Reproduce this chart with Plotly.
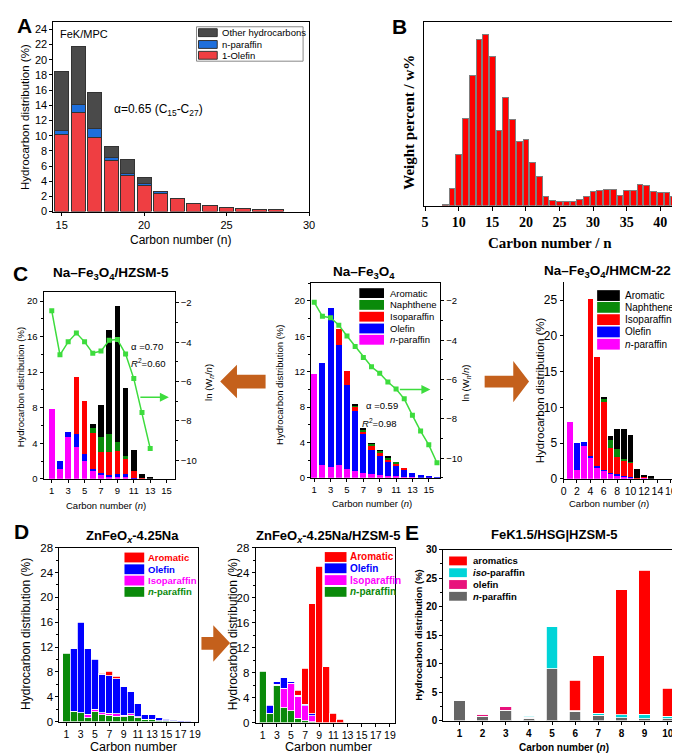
import plotly.graph_objects as go

W, H = 680, 755
SANS = "Liberation Sans, Arial, sans-serif"
SERIF = "Liberation Serif, Times New Roman, serif"

# ---------------- data ----------------
# A  FeK/MPC
a_carbon = list(range(15, 29))
a_olefin = [10.1, 13.1, 9.8, 6.7, 4.7, 3.4, 2.4, 1.75, 1.05, 0.8, 0.55, 0.45, 0.33, 0.25]
a_nparaffin = [0.6, 1.0, 1.1, 0.4, 0.3, 0.3, 0.2, 0, 0, 0, 0, 0, 0, 0]
a_other = [7.7, 7.7, 4.8, 1.5, 1.8, 0.8, 0.1, 0, 0, 0, 0, 0, 0, 0]

# B  weight percent vs carbon number
b_carbon = list(range(8, 43))
b_weight = [0.05, 1.28, 3.9, 6.65, 9.95, 12.65, 13.1, 11.4, 5.75, 8.28, 6.58, 4.9, 5.08,
            3.33, 2.23, 0.73, 0.4, 0.33, 0.33, 0.3, 0.5, 0.7, 1.08, 1.18, 1.23, 1.2,
            0.78, 1.13, 1.18, 1.65, 1.53, 1.08, 0.98, 0.98, 0.7]

# C left  Na-Fe3O4/HZSM-5
cl_carbon = list(range(1, 14))
cl_npar = [7.9, 1.1, 4.7, 3.6, 2.0, 0.85, 0.4, 0.2, 0.25, 0.22, 0.05, 0, 0]
cl_olefin = [0, 0.9, 0.55, 1.4, 0.75, 0.25, 0.25, 0.2, 0.3, 0.3, 0.05, 0, 0]
cl_isopar = [0, 0, 0, 6.4, 6.05, 4.1, 2.35, 2.6, 2.55, 1.7, 0.8, 0.05, 0]
cl_naph = [0, 0, 0, 0, 0, 0.55, 1.7, 2.0, 1.1, 0.4, 0, 0, 0]
cl_arom = [0, 0, 0, 0, 0, 0.4, 3.55, 11.7, 15.25, 7.65, 2.3, 0.55, 0.1]
cl_ln = [-2.4, -4.64, -3.98, -3.53, -3.98, -4.56, -4.45, -3.9, -3.86, -4.6, -5.85, -7.58, -9.4]

# C middle  Na-Fe3O4
cm_carbon = list(range(1, 17))
cm_npar = [11.8, 1.4, 1.25, 1.4, 1.05, 0.8, 0.6, 0.4, 0.3, 0.25, 0.2, 0.15, 0.05, 0, 0.03, 0]
cm_olefin = [0, 11.6, 18.0, 13.6, 9.45, 6.8, 4.4, 2.8, 2.2, 1.5, 1.1, 0.75, 0.5, 0.3, 0.12, 0.05]
cm_isopar = [0, 0, 0, 1.8, 1.6, 0.45, 0.25, 0.35, 0.3, 0.3, 0.3, 0.2, 0, 0, 0, 0]
cm_naph = [0, 0, 0, 0, 0, 0.1, 0.15, 0.25, 0.25, 0.25, 0.15, 0, 0, 0, 0, 0]
cm_arom = [0, 0, 0, 0, 0, 0.2, 0.2, 0.1, 0.05, 0.05, 0, 0, 0, 0, 0, 0]
cm_ln = [-2.07, -2.78, -2.85, -3.23, -3.78, -4.32, -4.87, -5.35, -5.68, -6.12, -6.48,
         -6.98, -7.82, -8.62, -9.32, -10.23]

# C right  Na-Fe3O4/HMCM-22
cr_carbon = list(range(1, 14))
cr_npar = [8.0, 1.3, 4.6, 2.9, 1.6, 1.15, 0.7, 0.37, 0.23, 0.2, 0, 0.15, 0]
cr_olefin = [0, 3.65, 0.5, 0.25, 0.15, 0.13, 0.13, 0.36, 0.14, 0.12, 0, 0, 0]
cr_isopar = [0, 0, 0, 21.95, 15.35, 9.42, 3.44, 2.39, 2.15, 1.9, 0.1, 0.05, 0]
cr_naph = [0, 0, 0, 0, 0, 0.45, 1.13, 1.0, 0.3, 0.1, 0, 0, 0]
cr_arom = [0, 0, 0, 0, 0, 0.35, 0.56, 2.87, 4.1, 3.85, 1.3, 0.3, 0.35]

# D left  ZnFeOx-4.25Na
dl_carbon = list(range(1, 19))
dl_npar = [11.0, 1.7, 1.4, 0.6, 1.6, 1.1, 1.0, 0.9, 0.8, 1.0, 0.6, 0.3, 0.35, 0.15, 0.1, 0.05, 0, 0]
dl_isopar = [0, 0, 0, 0.6, 0.4, 0.3, 0.35, 0.35, 0.25, 0.3, 0.2, 0.05, 0, 0, 0, 0, 0, 0]
dl_olefin = [0, 10.0, 14.6, 10.5, 8.0, 6.2, 6.05, 5.65, 4.55, 3.5, 2.1, 0.75, 0.75, 0.45, 0.25, 0.15, 0.1, 0.05]
dl_arom = [0, 0, 0, 0, 0, 0.2, 0.7, 0.4, 0, 0, 0, 0, 0, 0, 0, 0, 0, 0]

# D right  ZnFeOx-4.25Na/HZSM-5
dr_carbon = list(range(1, 13))
dr_npar = [8.2, 1.5, 6.0, 2.4, 1.9, 0.7, 0.3, 0.1, 0, 0, 0, 0]
dr_isopar = [0, 0, 0.1, 3.1, 4.4, 3.5, 2.4, 1.0, 0, 0, 0, 0]
dr_olefin = [0, 1.3, 0.4, 1.7, 0.2, 0.2, 0.2, 0.3, 0, 0, 0, 0]
dr_arom = [0, 0, 0, 0, 0, 0.8, 5.8, 17.6, 25.0, 8.9, 1.5, 0.5]

# E  FeK1.5/HSG|HZSM-5
e_carbon = list(range(1, 11))
e_npar = [3.5, 0.8, 1.8, 0.45, 9.1, 1.6, 0.9, 0.5, 0.3, 0.3]
e_olefin = [0, 0.3, 0.6, 0.1, 0, 0, 0, 0, 0, 0]
e_isopar = [0, 0.1, 0, 0.25, 7.4, 0.1, 0.4, 0.5, 0.8, 0.5]
e_arom = [0, 0, 0, 0, 0, 5.4, 10.1, 22.0, 25.3, 4.9]

# colours
A_RED, A_BLUE, A_GRAY = "#ef3e42", "#1e6fdc", "#4a4a4a"
BLACK, GREEN, RED, BLUE, MAGENTA = "#000000", "#0a8a0a", "#ff0000", "#0000ff", "#ff00ff"
LINE_GREEN = "#3ddc3d"
E_CYAN, E_PINK, E_GRAY = "#00d4d8", "#e8127c", "#666666"
ARROW = "#c4601c"


def fx(x):
    return x / W


def fy(y):
    return 1 - y / H


fig = go.Figure()
shapes = []
ann = []


def add_stack(xa, ya, x, layers, width, lc=None, lw=0):
    for vals, color in layers:
        fig.add_trace(go.Bar(x=x, y=[v if v else None for v in vals], xaxis=xa, yaxis=ya,
                             width=width, hoverinfo="skip",
                             marker=dict(color=color, line=dict(color=lc or color, width=lw))))


def axis(l, r, rng, anchor, size, family=SANS, bold=False, mirror=True, horiz=True, **kw):
    dom = [fx(l), fx(r)] if horiz else [fy(r), fy(l)]
    d = dict(domain=dom, range=rng, anchor=anchor, showline=True, linecolor="black",
             linewidth=1, mirror=mirror, ticks="outside", ticklen=3, tickwidth=1,
             tickcolor="black", showgrid=False, zeroline=False, tickangle=0,
             tickfont=dict(family=family, size=size, color="black",
                           weight="bold" if bold else "normal"))
    d.update(kw)
    return d


def txt(x, y, s, size, family=SANS, bold=False, color="black", angle=0, xanchor="center"):
    ann.append(dict(x=fx(x), y=fy(y), xref="paper", yref="paper", text=s, showarrow=False,
                    textangle=angle, xanchor=xanchor, yanchor="middle",
                    font=dict(family=family, size=size, color=color,
                              weight="bold" if bold else "normal")))


def rect(x0, y0, x1, y1, fill, line="rgba(0,0,0,0)", lw=0):
    shapes.append(dict(type="rect", xref="paper", yref="paper", x0=fx(x0), x1=fx(x1),
                       y0=fy(y1), y1=fy(y0), fillcolor=fill, line=dict(color=line, width=lw)))


def poly(pts, color):
    p = "M " + " L ".join(f"{fx(a):.5f},{fy(b):.5f}" for a, b in pts) + " Z"
    shapes.append(dict(type="path", xref="paper", yref="paper", path=p, fillcolor=color,
                       line=dict(width=0)))


def legend(x0, x1, rows, h, labels, colors, tx, size, bold=False, tcolors=None, lc=None):
    for i, (yc, lab, col) in enumerate(zip(rows, labels, colors)):
        rect(x0, yc - h / 2, x1, yc + h / 2, col, lc or col, 1 if lc else 0)
        txt(tx, yc, lab, size, bold=bold, color=(tcolors[i] if tcolors else "black"),
            xanchor="left")


def green_arrow(x0, x1, y):
    ann.append(dict(x=fx(x1), y=fy(y), xref="paper", yref="paper", ax=x0 - x1, ay=0,
                    showarrow=True, arrowhead=2, arrowsize=1.2, arrowwidth=1.5,
                    arrowcolor=LINE_GREEN, text=""))


odd15 = [1, 3, 5, 7, 9, 11, 13, 15]
odd19 = [1, 3, 5, 7, 9, 11, 13, 15, 17, 19]

# ---------------- A ----------------
add_stack("x", "y", a_carbon, [(a_olefin, A_RED), (a_nparaffin, A_BLUE), (a_other, A_GRAY)],
          0.86, "#333333", 1)
# ---------------- B ----------------
fig.add_trace(go.Bar(x=b_carbon, y=b_weight, xaxis="x2", yaxis="y2", width=0.85,
                     hoverinfo="skip", marker=dict(color="#ff0000", line=dict(color="#7f7f7f", width=1))))
# ---------------- C ----------------
c_layers = lambda p, o, i, n, a: [(p, MAGENTA), (o, BLUE), (i, RED), (n, GREEN), (a, BLACK)]
add_stack("x3", "y3", cl_carbon, c_layers(cl_npar, cl_olefin, cl_isopar, cl_naph, cl_arom), 0.7)
fig.add_trace(go.Scatter(x=cl_carbon, y=cl_ln, xaxis="x3", yaxis="y4", mode="lines+markers",
                         line=dict(color=LINE_GREEN, width=1.5),
                         marker=dict(symbol="square", size=5, color=LINE_GREEN), hoverinfo="skip"))
add_stack("x4", "y5", cm_carbon, c_layers(cm_npar, cm_olefin, cm_isopar, cm_naph, cm_arom), 0.75)
fig.add_trace(go.Scatter(x=cm_carbon, y=cm_ln, xaxis="x4", yaxis="y6", mode="lines+markers",
                         line=dict(color=LINE_GREEN, width=1.5),
                         marker=dict(symbol="square", size=5, color=LINE_GREEN), hoverinfo="skip"))
add_stack("x5", "y7", cr_carbon, c_layers(cr_npar, cr_olefin, cr_isopar, cr_naph, cr_arom), 0.85)
# ---------------- D ----------------
d_layers = lambda p, i, o, a: [(p, GREEN), (i, MAGENTA), (o, BLUE), (a, RED)]
add_stack("x6", "y8", dl_carbon, d_layers(dl_npar, dl_isopar, dl_olefin, dl_arom), 1.0, "white", 0.8)
add_stack("x7", "y9", dr_carbon, d_layers(dr_npar, dr_isopar, dr_olefin, dr_arom), 1.0, "white", 0.8)
# ---------------- E ----------------
add_stack("x8", "y10", e_carbon,
          [(e_npar, E_GRAY), (e_olefin, E_PINK), (e_isopar, E_CYAN), (e_arom, RED)], 0.5, "white", 0.8)

lay = dict(width=W, height=H, margin=dict(l=0, r=0, t=0, b=0), paper_bgcolor="white",
           plot_bgcolor="white", barmode="stack", showlegend=False)

lay["xaxis"] = axis(43, 302, [14.5, 30], "y", 11, tickvals=[15, 20, 25, 30])
lay["yaxis"] = axis(8, 201, [0, 25], "x", 11, horiz=False, tickvals=list(range(0, 25, 2)))

lay["xaxis2"] = axis(419, 675, [4.9, 42.5], "y2", 14, family=SERIF, bold=True,
                     tickvals=list(range(5, 41, 5)), ticklen=4)
lay["yaxis2"] = axis(8, 195, [0, 14.03], "x2", 10, horiz=False, ticks="", showticklabels=False)

lay["xaxis3"] = axis(33, 166, [0, 16], "y3", 9.5, tickvals=odd15)
lay["yaxis3"] = axis(283, 473, [0, 21], "x3", 9.5, horiz=False, tickvals=[0, 4, 8, 12, 16, 20],
                     minor=dict(dtick=2, ticks="outside", ticklen=2, tickcolor="black"))
lay["yaxis4"] = dict(overlaying="y3", side="right", anchor="x3", range=[-10.95, -1.45],
                     showline=True, linecolor="black", ticks="outside", ticklen=3,
                     tickcolor="black", showgrid=False, zeroline=False,
                     tickvals=[-2, -4, -6, -8, -10],
                     minor=dict(dtick=1, ticks="outside", ticklen=2, tickcolor="black"),
                     tickfont=dict(family=SANS, size=9.5, color="black"))

lay["xaxis4"] = axis(304, 435, [0.6, 16.4], "y5", 9.5, tickvals=odd15)
lay["yaxis5"] = axis(274, 472, [0, 22], "x4", 9.5, horiz=False, tickvals=[0, 4, 8, 12, 16, 20],
                     minor=dict(dtick=2, ticks="outside", ticklen=2, tickcolor="black"))
lay["yaxis6"] = dict(overlaying="y5", side="right", anchor="x4", range=[-11, -1.1],
                     showline=True, linecolor="black", ticks="outside", ticklen=3,
                     tickcolor="black", showgrid=False, zeroline=False,
                     tickvals=[-2, -4, -6, -8, -10],
                     minor=dict(dtick=1, ticks="outside", ticklen=2, tickcolor="black"),
                     tickfont=dict(family=SANS, size=9.5, color="black"))

lay["xaxis5"] = axis(560, 670, [0, 16.2], "y7", 10.5, mirror=False, tickvals=list(range(0, 17, 2)))
lay["yaxis7"] = axis(273, 473, [0, 27.5], "x5", 12, horiz=False, mirror=False,
                     tickvals=[0, 5, 10, 15, 20, 25])

lay["xaxis6"] = axis(49, 190, [0, 19.5], "y8", 10.5, tickvals=odd19)
lay["yaxis8"] = axis(543, 720, [0, 28], "x6", 11.5, horiz=False, tickvals=list(range(0, 29, 4)),
                     minor=dict(dtick=2, ticks="outside", ticklen=2, tickcolor="black"))
lay["xaxis7"] = axis(248, 389, [0, 19.7], "y9", 10.5, tickvals=odd19)
lay["yaxis9"] = axis(543, 721, [0, 28], "x7", 11.5, horiz=False, tickvals=list(range(0, 29, 4)),
                     minor=dict(dtick=2, ticks="outside", ticklen=2, tickcolor="black"))

lay["xaxis8"] = axis(438, 675, [0.3, 10.4], "y10", 10, bold=True, tickvals=e_carbon)
lay["yaxis10"] = axis(545, 719, [0, 30], "x8", 10, bold=True, horiz=False,
                      tickvals=[0, 5, 10, 15, 20, 25, 30],
                      minor=dict(dtick=2.5, ticks="outside", ticklen=2, tickcolor="black"))

# ---------------- texts ----------------
# A
txt(14, 12, "A", 21, bold=True)
txt(48, 20, "FeK/MPC", 11, xanchor="left")
txt(102, 98, "α=0.65 (C<sub>15</sub>-C<sub>27</sub>)", 12, xanchor="left")
txt(14, 105, "Hydrocarbon distribution (%)", 11.5, angle=-90)
txt(172, 230, "Carbon number (n)", 12)
rect(188, 13, 296, 48, "white", "#888888", 1)
legend(190, 209, [19, 31, 42], 8, ["Other hydrocarbons", "n-paraffin", "1-Olefin"],
       [A_GRAY, A_BLUE, A_RED], 212, 9.5, lc="#333333")
# B
txt(394, 13, "B", 21, bold=True)
txt(403, 110, "Weight percent / w%", 15, family=SERIF, bold=True, angle=-90)
txt(546, 233, "Carbon number / n", 15, family=SERIF, bold=True)
# C
txt(10, 264, "C", 21, bold=True)
txt(101, 264, "Na–Fe<sub>3</sub>O<sub>4</sub>/HZSM-5", 13.5, bold=True)
txt(10, 380, "Hydrocarbon distribution (%)", 9.5, angle=-90)
txt(200, 375, "ln (W<sub><i>n</i></sub>/<i>n</i>)", 9.5, angle=-90)
txt(96, 500, "Carbon number (<i>n</i>)", 9.5)
txt(120, 338, "α =0.70", 9.5, xanchor="left")
txt(120, 355, "<i>R</i><sup>2</sup>=0.60", 9.5, xanchor="left")
green_arrow(130, 160, 390)

txt(358, 263, "Na–Fe<sub>3</sub>O<sub>4</sub>", 13.5, bold=True)
txt(272, 377, "Hydrocarbon distribution (%)", 9.5, angle=-90)
txt(461, 375, "ln (W<sub><i>n</i></sub>/<i>n</i>)", 9.5, angle=-90)
txt(366, 498, "Carbon number (<i>n</i>)", 9.5)
txt(358, 398, "α =0.59", 9.5, xanchor="left")
txt(354, 416, "<i>R</i><sup>2</sup>=0.98", 9.5, xanchor="left")
green_arrow(393, 425, 382)
c_labels = ["Aromatic", "Naphthene", "Isoparaffin", "Olefin", "<i>n</i>-paraffin"]
c_colors = [BLACK, GREEN, RED, BLUE, MAGENTA]
legend(353, 378, [284, 296, 308, 320, 331.5], 10, c_labels, c_colors, 382, 9.5)

txt(604, 262, "Na–Fe<sub>3</sub>O<sub>4</sub>/HMCM-22", 13.5, bold=True)
txt(537, 383, "Hydrocarbon distribution (%)", 11.5, angle=-90)
txt(606, 498, "Carbon number (<i>n</i>)", 9.5)
legend(594, 617, [286.5, 298.5, 311, 323.5, 336], 11, c_labels, c_colors, 620, 10)

poly([(212, 374), (229, 357), (229, 367), (258, 367), (258, 381), (229, 381), (229, 391)], ARROW)
poly([(480, 368), (509, 368), (509, 353), (525, 374), (509, 395), (509, 380), (480, 380)], ARROW)
# D
txt(11, 527, "D", 21, bold=True)
txt(123, 532, "ZnFeO<sub><i>x</i></sub>-4.25Na", 13, bold=True)
txt(15, 631, "Hydrocarbon distribution (%)", 12, angle=-90)
txt(124, 746, "Carbon number", 12.5)
d_labels = ["Aromatic", "Olefin", "Isoparaffin", "<i>n</i>-paraffin"]
d_colors = [RED, BLUE, MAGENTA, GREEN]
legend(115, 135, [553, 565, 576.5, 588], 10, d_labels, d_colors, 137, 9.5, bold=True, tcolors=d_colors)

txt(321, 532, "ZnFeO<sub><i>x</i></sub>-4.25Na/HZSM-5", 13, bold=True)
txt(225, 631, "Hydrocarbon distribution (%)", 12, angle=-90)
txt(322, 746, "Carbon number", 12.5)
legend(318, 340, [552.5, 564, 576, 588], 10, d_labels, d_colors, 342, 10, bold=True, tcolors=d_colors)

poly([(193, 634), (205, 634), (205, 622), (222, 640), (205, 659), (205, 647), (193, 647)], ARROW)
# E
txt(406, 528, "E", 21, bold=True)
txt(550, 530, "FeK1.5/HSG|HZSM-5", 13, bold=True)
txt(413, 632, "Hydrocarbon distribution (%)", 9.5, bold=True, angle=-90)
txt(560, 746, "Carbon number (<i>n</i>)", 10, bold=True)
legend(444, 462, [556.5, 568.5, 580.5, 592.5], 9,
       ["aromatics", "<i>iso</i>-paraffin", "olefin", "<i>n</i>-paraffin"],
       [RED, E_CYAN, E_PINK, E_GRAY], 466, 9.5, bold=True)

lay["shapes"] = shapes
lay["annotations"] = ann
fig.update_layout(lay)
fig.write_html("out.html")
